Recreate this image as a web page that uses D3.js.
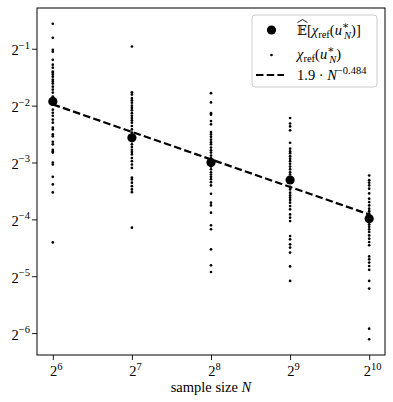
<!DOCTYPE html>
<html>
<head>
<meta charset="utf-8">
<script src="https://cdn.jsdelivr.net/npm/d3@7"></script>
<style>
	body { margin: 0; background: #fff; }
	text { font-family: "Liberation Serif", "DejaVu Serif", serif; fill: #000; }
</style>
</head>
<body>
<svg id="chart" width="393" height="402"></svg>
<script>
"use strict";

// sample sizes N (x positions)
const sampleSizes = [64, 128, 256, 512, 1024];

// chi_ref(u*_N) samples, one list per sample size
const chiN64 = [0.678, 0.571, 0.494, 0.482, 0.437, 0.412, 0.397, 0.378, 0.373, 0.365, 0.356, 0.343,
	0.335, 0.327, 0.315, 0.304, 0.293, 0.279, 0.269, 0.253, 0.238, 0.229, 0.221, 0.211, 0.203,
	0.191, 0.187, 0.176, 0.172, 0.161, 0.156, 0.146, 0.143, 0.141, 0.125, 0.122, 0.105, 0.0957,
	0.0868, 0.0472];
const chiN128 = [0.514, 0.294, 0.286, 0.274, 0.267, 0.259, 0.250, 0.243, 0.236, 0.228, 0.221,
	0.215, 0.209, 0.203, 0.195, 0.187, 0.180, 0.162, 0.156, 0.151, 0.146, 0.142, 0.138, 0.132,
	0.127, 0.122, 0.117, 0.104, 0.1017, 0.0977, 0.0937, 0.0900, 0.0871, 0.0565];
const chiN256 = [0.291, 0.260, 0.228, 0.224, 0.207, 0.199, 0.181, 0.176, 0.171, 0.165, 0.160,
	0.156, 0.150, 0.145, 0.141, 0.136, 0.132, 0.122, 0.119, 0.115, 0.111, 0.108, 0.105, 0.102,
	0.0983, 0.0945, 0.0854, 0.0766, 0.0741, 0.0678, 0.0581, 0.0554, 0.0434, 0.0357, 0.0329];
const chiN512 = [0.215, 0.201, 0.194, 0.185, 0.159, 0.148, 0.143, 0.140, 0.135, 0.131, 0.127,
	0.123, 0.119, 0.115, 0.111, 0.108, 0.0930, 0.0900, 0.0865, 0.0837, 0.0814, 0.0791, 0.0766,
	0.0735, 0.0706, 0.0664, 0.0638, 0.0612, 0.0510, 0.0490, 0.0461, 0.0443, 0.0417, 0.0352, 0.0295];
const chiN1024 = [0.1067, 0.1008, 0.0977, 0.0945, 0.0908, 0.0857, 0.0804, 0.0772, 0.0741, 0.0712,
	0.0691, 0.0672, 0.0588, 0.0572, 0.0554, 0.0536, 0.0514, 0.0494, 0.0474, 0.0456, 0.0398,
	0.0384, 0.0369, 0.0354, 0.0338, 0.0295, 0.0269, 0.0165, 0.0145];

// empirical means per sample size
const chiMeans = [0.263, 0.169, 0.125, 0.101, 0.063];

// fitted power law 1.9 * N^-0.484
const fitCoef = 1.9;
const fitExp = -0.484;

const xTickExps = ["6", "7", "8", "9", "10"];
const yTickExps = ["\u22121", "\u22122", "\u22123", "\u22124", "\u22125", "\u22126"];

const margin = { top: 8, right: 8, bottom: 47, left: 37 };
const W = 393, H = 402;
const fontSize = 14.5, supSize = 10.5;

const samples = [chiN64, chiN128, chiN256, chiN512, chiN1024];
const points = samples.flatMap((list, i) => list.map(v => ({ n: sampleSizes[i], v: v })));

// matplotlib style 5% padding in log space
function logPad(ext) {
	let lo = Math.log2(ext[0]), hi = Math.log2(ext[1]);
	let p = (hi - lo) * 0.05;
	return [2 ** (lo - p), 2 ** (hi + p)];
}

const x = d3.scaleLog().base(2)
	.domain(logPad(d3.extent(sampleSizes)))
	.range([margin.left, W - margin.right]);
const y = d3.scaleLog().base(2)
	.domain(logPad(d3.extent(points, d => d.v)))
	.range([H - margin.bottom, margin.top]);

const svg = d3.select("#chart");

// axes (ticks only, frame drawn separately)
const xAxis = svg.append("g")
	.attr("transform", `translate(0, ${H - margin.bottom})`)
	.call(d3.axisBottom(x).tickValues(xTickExps.map(e => 2 ** +e)).tickSize(5).tickFormat(""));
const yAxis = svg.append("g")
	.attr("transform", `translate(${margin.left}, 0)`)
	.call(d3.axisLeft(y).tickValues(yTickExps.map(e => 2 ** -(+e.slice(1)))).tickSize(5).tickFormat(""));
svg.selectAll(".domain").remove();
svg.selectAll(".tick line").attr("stroke", "#000").attr("stroke-width", 0.9);

// power-of-two labels
function powLabel(t, exp) {
	t.append("tspan").text("2");
	t.append("tspan").attr("dy", -6.5).attr("font-size", supSize).text(exp);
}
xAxis.selectAll(".tick").each(function(d, i) {
	let t = d3.select(this).append("text")
		.attr("y", 21).attr("text-anchor", "middle")
		.attr("font-size", fontSize).attr("dx", 3);
	powLabel(t, xTickExps[i]);
});
yAxis.selectAll(".tick").each(function(d, i) {
	let t = d3.select(this).append("text")
		.attr("x", -7).attr("y", 6).attr("text-anchor", "end")
		.attr("font-size", fontSize);
	powLabel(t, yTickExps[i]);
});

// x label
let xl = svg.append("text")
	.attr("x", (margin.left + W - margin.right) / 2)
	.attr("y", 392)
	.attr("text-anchor", "middle")
	.attr("font-size", fontSize);
xl.append("tspan").text("sample size ");
xl.append("tspan").attr("font-style", "italic").text("N");

// fitted line
const fitLine = d3.line()
	.x(d => x(d))
	.y(d => y(fitCoef * d ** fitExp));
svg.append("path")
	.datum(d3.extent(sampleSizes))
	.attr("d", fitLine)
	.attr("fill", "none")
	.attr("stroke", "#000")
	.attr("stroke-width", 2.2)
	.attr("stroke-dasharray", "7.5,3.2");

// samples
svg.append("g").selectAll("circle")
	.data(points)
	.join("circle")
	.attr("cx", d => x(d.n))
	.attr("cy", d => y(d.v))
	.attr("r", 1.35)
	.attr("fill", "#000");

// means
svg.append("g").selectAll("circle")
	.data(chiMeans)
	.join("circle")
	.attr("cx", (d, i) => x(sampleSizes[i]))
	.attr("cy", d => y(d))
	.attr("r", 4.6)
	.attr("fill", "#000");

// frame
svg.append("rect")
	.attr("x", margin.left)
	.attr("y", margin.top)
	.attr("width", W - margin.left - margin.right)
	.attr("height", H - margin.top - margin.bottom)
	.attr("fill", "none")
	.attr("stroke", "#000")
	.attr("stroke-width", 1);

// legend
const leg = svg.append("g");
leg.append("rect")
	.attr("x", 252).attr("y", 15)
	.attr("width", 125).attr("height", 72)
	.attr("rx", 3)
	.attr("fill", "#fff").attr("fill-opacity", 0.8)
	.attr("stroke", "#ccc").attr("stroke-width", 1);
leg.append("circle").attr("cx", 271.5).attr("cy", 30).attr("r", 4.6).attr("fill", "#000");
leg.append("circle").attr("cx", 271.5).attr("cy", 55).attr("r", 1.35).attr("fill", "#000");
leg.append("line")
	.attr("x1", 256).attr("x2", 284).attr("y1", 75).attr("y2", 75)
	.attr("stroke", "#000").attr("stroke-width", 2.2)
	.attr("stroke-dasharray", "7.5,3.2");

// chi_ref(u*_N) pieces
function chiRef(t) {
	t.append("tspan").attr("font-style", "italic").text("\u03c7");
	t.append("tspan").attr("font-size", supSize).attr("dy", 3).text("ref");
	t.append("tspan").attr("dy", -3).text("(");
	t.append("tspan").attr("font-style", "italic").text("u");
	t.append("tspan").attr("font-size", supSize).attr("dy", -6).text("\u2217");
	t.append("tspan").attr("font-size", supSize).attr("font-style", "italic")
		.attr("dx", -5).attr("dy", 10).text("N");
	t.append("tspan").attr("dy", -4).text(")");
}

let l1 = leg.append("text").attr("x", 297).attr("y", 35).attr("font-size", fontSize);
l1.append("tspan").attr("font-family", "DejaVu Serif").attr("font-size", 13)
	.style("fill", "#000").text("\ud835\udd3c");
l1.append("tspan").text("[");
chiRef(l1);
l1.append("tspan").text("]");
// wide hat over the expectation symbol
leg.append("path")
	.attr("d", "M297.5,22.5L302.5,19.5L307.5,22.5")
	.attr("fill", "none").attr("stroke", "#000").attr("stroke-width", 0.9);

let l2 = leg.append("text").attr("x", 297).attr("y", 59).attr("font-size", fontSize);
chiRef(l2);

let l3 = leg.append("text").attr("x", 297).attr("y", 80).attr("font-size", fontSize);
l3.append("tspan").text("1.9 \u00b7 ");
l3.append("tspan").attr("font-style", "italic").text("N");
l3.append("tspan").attr("font-size", supSize).attr("dy", -6.5).text("\u22120.484");
</script>
</body>
</html>
